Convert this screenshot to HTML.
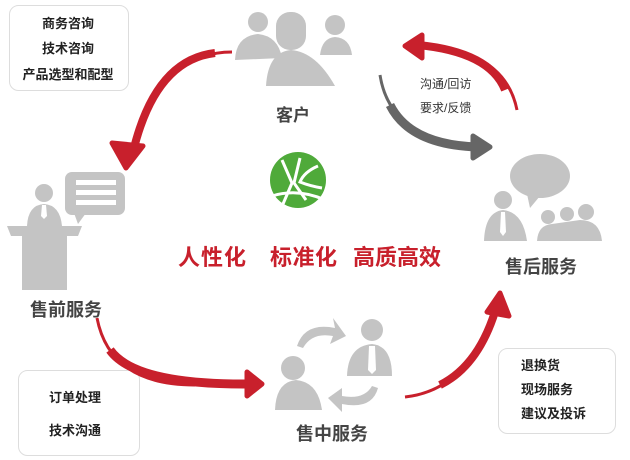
<!DOCTYPE html>
<html><head><meta charset="utf-8"><style>
html,body{margin:0;padding:0;background:#fff;}
svg{display:block;}
text{font-family:"Liberation Sans","Noto Sans CJK SC",sans-serif;}
</style></head><body>
<svg width="630" height="460" viewBox="0 0 630 460" xmlns="http://www.w3.org/2000/svg">
<!-- boxes -->
<rect x="9.5" y="5.5" width="119" height="85" rx="9" fill="#fff" stroke="#ddd"/>
<g font-size="13" font-weight="bold" fill="#222" text-anchor="middle">
<text x="68" y="28">商务咨询</text>
<text x="68" y="53">技术咨询</text>
<text x="68" y="79">产品选型和配型</text>
</g>
<rect x="18.5" y="370.5" width="121" height="85" rx="9" fill="#fff" stroke="#ddd"/>
<g font-size="13" font-weight="bold" fill="#222" text-anchor="middle">
<text x="75" y="402">订单处理</text>
<text x="75" y="435">技术沟通</text>
</g>
<rect x="498.5" y="348.5" width="117" height="85" rx="9" fill="#fff" stroke="#ddd"/>
<g font-size="13" font-weight="bold" fill="#222">
<text x="521" y="370">退换货</text>
<text x="521" y="394">现场服务</text>
<text x="521" y="418">建议及投诉</text>
</g>

<!-- customer icon -->
<g fill="#c4c4c4">
<circle cx="335" cy="25" r="10"/><path d="M320 55 Q322 38 335 37 Q350 38 352 55Z"/>
<circle cx="258" cy="22" r="10"/><path d="M235 60 Q236 36 258 34 Q278 36 282 58Z"/>
<rect x="276" y="12" width="30" height="38" rx="14"/>
<path d="M266 86 Q268 52 291 50 Q316 52 335 86Z"/>
</g>
<text x="293" y="121" font-size="17" font-weight="bold" fill="#444" text-anchor="middle">客户</text>

<!-- logo -->
<circle cx="298" cy="180" r="28" fill="#4faa3a"/>
<g stroke="#fff" stroke-width="3" fill="none">
<path d="M282 160 L292 183 L283 204"/>
<path d="M300 158 L294 183 L306 200"/>
<path d="M318 166 Q304 172 300 182 Q310 186 322 188"/>
<path d="M272 196 Q298 188 325 200"/>
</g>

<g font-size="22" font-weight="bold" fill="#c8202c">
<text x="178" y="265" textLength="68">人性化</text>
<text x="270" y="265" textLength="67">标准化</text>
<text x="353" y="265" textLength="88">高质高效</text>
</g>

<!-- presales icon -->
<g fill="#c4c4c4">
<rect x="65" y="172" width="60" height="43" rx="7"/>
<path d="M74 213 L78 224 L86 213Z"/>
<circle cx="44" cy="193" r="9"/>
<path d="M27 226 Q28 205 44 204 Q60 205 62 226Z"/>
<path d="M7 226 L82 226 L78 236 L11 236Z"/>
<rect x="22" y="236" width="45" height="54"/>
</g>
<g fill="#fff"><rect x="76" y="180" width="40" height="5"/><rect x="76" y="190" width="40" height="5"/><rect x="76" y="200" width="40" height="5"/><path d="M42 205 L46 205 L47 216 L44 219 L41 216Z"/></g>
<text x="66" y="316" font-size="18" font-weight="bold" fill="#444" text-anchor="middle">售前服务</text>

<!-- after-sales icon -->
<g fill="#c4c4c4">
<ellipse cx="540" cy="176" rx="30" ry="22"/>
<path d="M527 194 L530 208 L540 196Z"/>
<circle cx="503" cy="200" r="9"/>
<path d="M484 241 Q485 212 503 210 Q523 212 527 241Z"/>
<circle cx="548" cy="217" r="7"/><circle cx="567" cy="214" r="7"/><circle cx="586" cy="212" r="8"/>
<path d="M537 241 Q538 225 552 224 L580 220 Q600 220 602 241Z"/>
</g>
<path d="M501 212 L505 212 L506 232 L503 236 L500 232Z" fill="#fff"/>
<text x="541" y="273" font-size="18" font-weight="bold" fill="#444" text-anchor="middle">售后服务</text>

<!-- mid icon -->
<g fill="#c4c4c4">
<path d="M297 346 Q305 322 335 328 L333 318 L346 336 L330 344 L333 336 Q312 332 303 348Z"/>
<circle cx="372" cy="330" r="11"/><path d="M347 376 Q348 346 372 344 Q392 346 392 376Z"/>
<circle cx="293" cy="368" r="12"/><path d="M275 410 Q276 382 296 380 Q318 382 322 410Z"/>
<path d="M378 388 Q372 410 342 404 L342 412 L328 398 L342 388 L342 396 Q364 400 372 386Z"/>
</g>
<path d="M369 346 L375 346 L376 370 L372 374 L368 370Z" fill="#fff"/>
<text x="332" y="440" font-size="18" font-weight="bold" fill="#444" text-anchor="middle">售中服务</text>

<!-- arrows -->
<path d="M232 52 Q160 52 135 150" stroke="#c8202c" stroke-width="3" fill="none"/>
<path d="M215 53 Q155 60 133 152" stroke="#c8202c" stroke-width="8" fill="none"/>
<path d="M112 143 L126 168 L143 146 Z" fill="#c8202c" stroke="#c8202c" stroke-width="5" stroke-linejoin="round"/>
<path d="M517 110 Q505 50 420 45" stroke="#c8202c" stroke-width="3" fill="none"/>
<path d="M505 90 Q490 52 418 45" stroke="#c8202c" stroke-width="8" fill="none"/>
<path d="M422 35 L405 46 L422 58 Z" fill="#c8202c" stroke="#c8202c" stroke-width="5" stroke-linejoin="round"/>
<path d="M380 75 Q390 140 478 147" stroke="#666" stroke-width="3" fill="none"/>
<path d="M390 105 Q410 145 478 147" stroke="#666" stroke-width="9" fill="none"/>
<path d="M473 136 L490 147 L473 158 Z" fill="#666" stroke="#666" stroke-width="5" stroke-linejoin="round"/>
<g font-size="12" fill="#333"><text x="420" y="88">沟通/回访</text><text x="420" y="112">要求/反馈</text></g>
<path d="M97 318 Q110 385 195 385" stroke="#c8202c" stroke-width="3" fill="none"/>
<path d="M110 350 Q135 385 250 384" stroke="#c8202c" stroke-width="9" fill="none"/>
<path d="M247 372 L262 384 L247 396 Z" fill="#c8202c" stroke="#c8202c" stroke-width="5" stroke-linejoin="round"/>
<path d="M405 397 Q470 390 497 305" stroke="#c8202c" stroke-width="3" fill="none"/>
<path d="M440 385 Q480 365 497 305" stroke="#c8202c" stroke-width="8" fill="none"/>
<path d="M487 312 L500 293 L509 316 Z" fill="#c8202c" stroke="#c8202c" stroke-width="5" stroke-linejoin="round"/>
</svg>
</body></html>
